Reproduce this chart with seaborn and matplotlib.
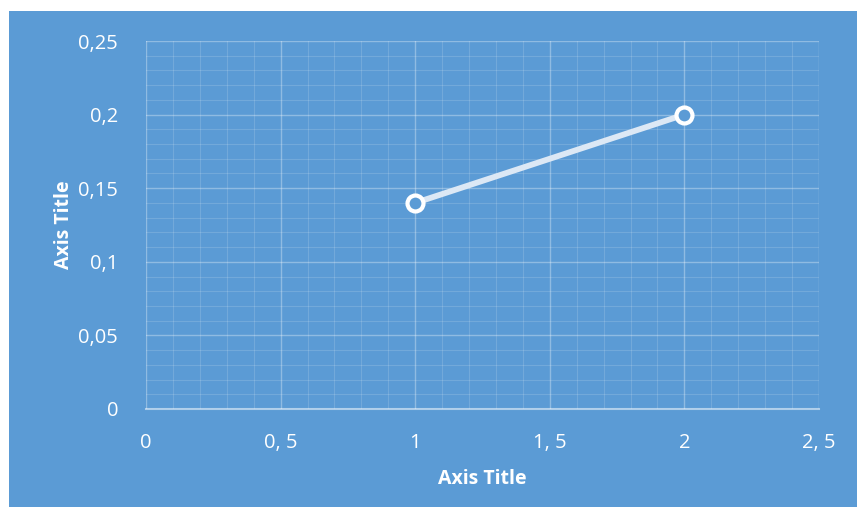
import matplotlib
matplotlib.use("Agg")
import matplotlib.pyplot as plt
import seaborn as sns
import pandas as pd
import numpy as np
from matplotlib.patches import Rectangle
from matplotlib.ticker import MultipleLocator, FixedLocator

x_vals = [1, 2]
y_vals = [0.14, 0.2]
x_ticks = [0, 0.5, 1, 1.5, 2, 2.5]
x_labels = ["0", "0, 5", "1", "1, 5", "2", "2, 5"]
y_ticks = [0, 0.05, 0.1, 0.15, 0.2, 0.25]
y_labels = ["0", "0,05", "0,1", "0,15", "0,2", "0,25"]

BG = "#5B9BD5"
sns.set_theme(style="white")
plt.rcParams['font.family'] = ['Open Sans', 'DejaVu Sans']

fig = plt.figure(figsize=(8.57, 5.07), dpi=100, facecolor="white")
bgrect = Rectangle((9/857, 0), 1 - 9/857, 1 - 11/507, transform=fig.transFigure,
                   facecolor=BG, edgecolor="none", zorder=-10)
fig.add_artist(bgrect)
ax = fig.add_axes([146/857, 1 - 409/507, (819 - 146)/857, (409 - 41)/507])
ax.set_facecolor(BG)
ax.set_zorder(1)

df = pd.DataFrame({"x": x_vals, "y": y_vals})
sns.lineplot(data=df, x="x", y="y", ax=ax, color="#DCE8F5", linewidth=4.2,
             marker="o", markersize=11.5, markerfacecolor=BG, markeredgecolor="white",
             markeredgewidth=3.0, zorder=5)

ax.set_xlim(0, 2.5)
ax.set_ylim(0, 0.25)
ax.xaxis.set_major_locator(FixedLocator(x_ticks))
ax.yaxis.set_major_locator(FixedLocator(y_ticks))
ax.set_xticklabels(x_labels)
ax.set_yticklabels(y_labels)
ax.xaxis.set_minor_locator(MultipleLocator(0.1))
ax.yaxis.set_minor_locator(MultipleLocator(0.01))

ax.grid(which="major", color="white", alpha=0.32, linewidth=1.0)
ax.grid(which="minor", color="white", alpha=0.14, linewidth=0.8)
ax.set_axisbelow(True)

for s in ["top", "right", "left"]:
    ax.spines[s].set_visible(False)
ax.spines["bottom"].set_color((1, 1, 1, 0.5))
ax.spines["bottom"].set_linewidth(1.5)

ax.tick_params(axis="x", which="major", direction="out", length=6, width=1.5,
               color=(1, 1, 1, 0.5), labelcolor="white", labelsize=14.5, pad=11)
ax.tick_params(axis="y", which="major", length=0, labelcolor="white", labelsize=14.5, pad=20)
ax.tick_params(which="minor", length=0)

ax.set_xlabel("Axis Title", color="white", fontsize=14, fontweight="bold", labelpad=12)
ax.set_ylabel("Axis Title", color="white", fontsize=14, fontweight="bold", labelpad=3)

fig.savefig("out.png", dpi=100, facecolor="white")
